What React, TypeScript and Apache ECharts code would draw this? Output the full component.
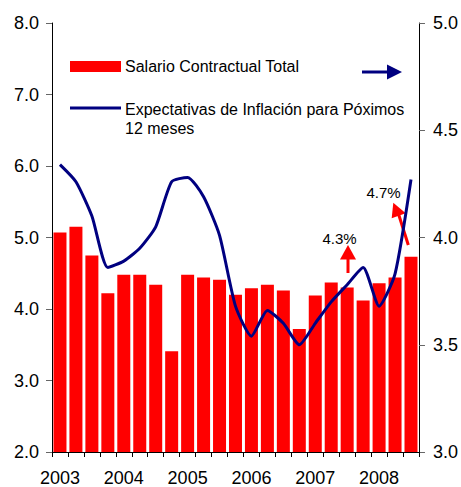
import React, { useEffect, useRef } from "react";
import * as echarts from "echarts";

const categories = [
  "2003Q1", "2003Q2", "2003Q3", "2003Q4",
  "2004Q1", "2004Q2", "2004Q3", "2004Q4",
  "2005Q1", "2005Q2", "2005Q3", "2005Q4",
  "2006Q1", "2006Q2", "2006Q3", "2006Q4",
  "2007Q1", "2007Q2", "2007Q3", "2007Q4",
  "2008Q1", "2008Q2", "2008Q3",
];
const salario = [
  5.07, 5.15, 4.75, 4.22, 4.48, 4.48, 4.34, 3.41, 4.48, 4.44, 4.41, 4.2,
  4.29, 4.34, 4.26, 3.72, 4.19, 4.37, 4.3, 4.12, 4.36, 4.44, 4.73,
];
const expectativas = [
  4.34, 4.26, 4.1, 3.86, 3.89, 3.95, 4.05, 4.26, 4.28, 4.19, 4.01, 3.68,
  3.54, 3.66, 3.6, 3.5, 3.6, 3.7, 3.78, 3.86, 3.68, 3.83, 4.27,
];
const salarioName = "Salario Contractual Total";
const expectName = "Expectativas de Inflación para Póximos";
const expectName2 = "12 meses";
const annot1 = "4.3%";
const annot2 = "4.7%";

const FONT = "'Liberation Sans', Arial, sans-serif";

export default function App() {
  const ref = useRef<HTMLDivElement>(null);
  useEffect(() => {
    if (!ref.current) return;
    const chart = echarts.init(ref.current, null, { renderer: "svg" });
    chart.setOption({
      animation: false,
      backgroundColor: "#fff",
      textStyle: { fontFamily: FONT },
      grid: { left: 52, right: 40, top: 23, bottom: 34 },
      xAxis: {
        type: "category",
        data: categories,
        axisLine: { lineStyle: { color: "#000", width: 1 } },
        axisTick: { show: true, interval: 0, length: 5, lineStyle: { color: "#000" } },
        axisLabel: {
          interval: 3,
          margin: 17,
          fontSize: 18,
          color: "#000",
          fontFamily: FONT,
          formatter: (v: string) => v.slice(0, 4),
        },
      },
      yAxis: [
        {
          type: "value",
          min: 2,
          max: 8,
          interval: 1,
          splitLine: { show: false },
          axisLine: { show: true, lineStyle: { color: "#000" } },
          axisTick: { show: true, length: 6, lineStyle: { color: "#666" } },
          axisLabel: {
            margin: 13,
            fontSize: 18,
            color: "#000",
            fontFamily: FONT,
            formatter: (v: number) => v.toFixed(1),
          },
        },
        {
          type: "value",
          min: 3,
          max: 5,
          interval: 0.5,
          position: "right",
          splitLine: { show: false },
          axisLine: { show: true, lineStyle: { color: "#000" } },
          axisTick: { show: true, length: 6, lineStyle: { color: "#666" } },
          axisLabel: {
            margin: 14,
            fontSize: 18,
            color: "#000",
            fontFamily: FONT,
            formatter: (v: number) => v.toFixed(1),
          },
        },
      ],
      series: [
        {
          name: salarioName,
          type: "bar",
          data: salario,
          barWidth: 13,
          itemStyle: { color: "#ff0000" },
          yAxisIndex: 0,
        },
        {
          name: expectName,
          type: "line",
          data: expectativas,
          yAxisIndex: 1,
          symbol: "none",
          smooth: 0.2,
          lineStyle: { color: "#000080", width: 3 },
          z: 5,
        },
      ],
      graphic: [
        { type: "rect", shape: { x: 70, y: 61, width: 51, height: 11 }, style: { fill: "#ff0000" } },
        {
          type: "text",
          x: 125,
          y: 66,
          style: { text: salarioName, fontSize: 16, fontFamily: FONT, fill: "#000", textVerticalAlign: "middle", verticalAlign: "middle" },
        },
        {
          type: "line",
          shape: { x1: 70, y1: 108, x2: 121, y2: 108 },
          style: { stroke: "#000080", lineWidth: 3 },
        },
        {
          type: "text",
          x: 125,
          y: 109,
          style: { text: expectName, fontSize: 16, fontFamily: FONT, fill: "#000", verticalAlign: "middle" },
        },
        {
          type: "text",
          x: 125,
          y: 128,
          style: { text: expectName2, fontSize: 16, fontFamily: FONT, fill: "#000", verticalAlign: "middle" },
        },
        {
          type: "line",
          shape: { x1: 362, y1: 72, x2: 390, y2: 72 },
          style: { stroke: "#000080", lineWidth: 3 },
        },
        {
          type: "polygon",
          shape: { points: [[387, 64.5], [402, 72], [387, 79.5]] },
          style: { fill: "#000080" },
        },
        {
          type: "text",
          x: 339.5,
          y: 238,
          style: { text: annot1, fontSize: 15, fontFamily: FONT, fill: "#000", align: "center", verticalAlign: "middle" },
        },
        {
          type: "line",
          shape: { x1: 348, y1: 273, x2: 348, y2: 256 },
          style: { stroke: "#ff0000", lineWidth: 3 },
        },
        {
          type: "polygon",
          shape: { points: [[348, 245], [356, 259.5], [340, 259.5]] },
          style: { fill: "#ff0000" },
        },
        {
          type: "text",
          x: 383.5,
          y: 192,
          style: { text: annot2, fontSize: 15, fontFamily: FONT, fill: "#000", align: "center", verticalAlign: "middle" },
        },
        {
          type: "line",
          shape: { x1: 408.3, y1: 245, x2: 398.5, y2: 214 },
          style: { stroke: "#ff0000", lineWidth: 3 },
        },
        {
          type: "polygon",
          shape: { points: [[393.3, 202.7], [405.7, 213.3], [391.7, 218.3]] },
          style: { fill: "#ff0000" },
        },
      ],
    });
    return () => chart.dispose();
  }, []);
  return <div ref={ref} style={{ width: 461, height: 487, position: "absolute", left: 0, top: 0 }} />;
}
